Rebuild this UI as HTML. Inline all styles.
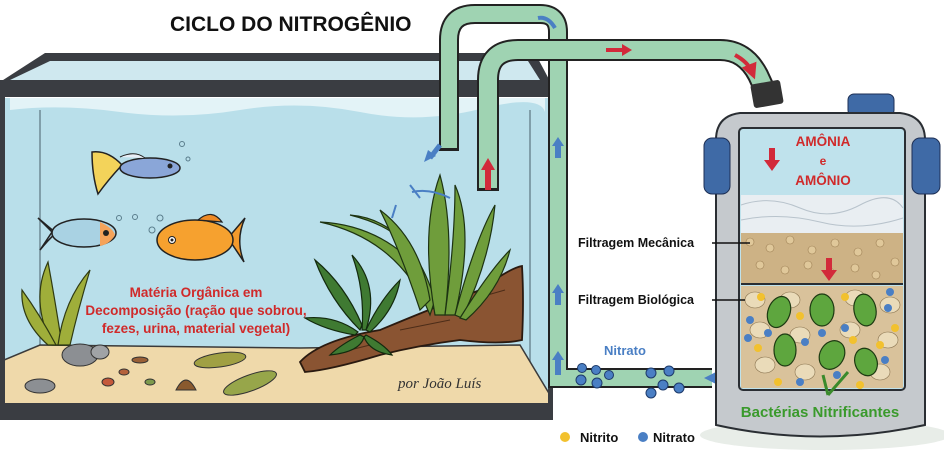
<!DOCTYPE html>
<html><head><meta charset="utf-8"><style>
html,body{margin:0;padding:0;background:#fff;}
svg{display:block;}
text{font-family:"Liberation Sans",sans-serif;}
</style></head><body>
<svg width="944" height="450" viewBox="0 0 944 450" xmlns="http://www.w3.org/2000/svg">
<defs>
<marker id="ar" viewBox="0 0 10 10" refX="5" refY="5" markerWidth="4" markerHeight="4" orient="auto"><path d="M0,0L10,5L0,10z" fill="#d22a3a"/></marker>
</defs>
<text x="170" y="31" font-size="21" font-weight="bold" fill="#111">CICLO DO NITROGÊNIO</text>

<polygon points="0,82 45,53 535,53 552,85" fill="#3a3d42"/>
<polygon points="10,80 50,61 528,61 540,80" fill="#cfe8ef"/>
<rect x="4" y="98" width="546" height="305" fill="#b9dfea"/>
<path d="M10,110 Q60,104 120,112 T240,110 T360,112 T480,109 T545,112 L545,98 L10,98z" fill="#e3f3f7"/>
<line x1="40" y1="110" x2="40" y2="395" stroke="#6f8a94" stroke-width="1.5"/>
<line x1="530" y1="110" x2="530" y2="380" stroke="#6f8a94" stroke-width="1.5"/>
<polygon points="4,405 4,360 40,345 300,348 520,345 550,395 550,405" fill="#efd9aa" stroke="#3a3a3a" stroke-width="1.5"/>
<rect x="0" y="80" width="553" height="17" fill="#3a3d42"/>
<rect x="0" y="403" width="553" height="17" fill="#3a3d42"/>
<rect x="0" y="96" width="5" height="310" fill="#3a3d42"/>
<rect x="548" y="96" width="5" height="310" fill="#3a3d42"/>

<path d="M92,152 Q108,150 122,165 Q108,180 98,194 Q92,175 92,152z" fill="#f3d35a" stroke="#222" stroke-width="1.5"/>
<ellipse cx="150" cy="168" rx="30" ry="10" fill="#8aa6d8" stroke="#222" stroke-width="1.5"/>
<path d="M120,157 Q135,150 145,158" fill="#e8eef6" stroke="#222" stroke-width="1"/>
<circle cx="170" cy="166" r="2.5" fill="#222"/>
<path d="M38,218 L52,232 L40,250 Q48,240 56,233z" fill="#a9cde0" stroke="#222" stroke-width="1.5"/>
<ellipse cx="84" cy="233" rx="32" ry="14" fill="#a9d2e3" stroke="#222" stroke-width="1.5"/>
<path d="M100,222 Q113,228 115,235 Q110,244 100,246z" fill="#f5a35a"/>
<circle cx="106" cy="233" r="3" fill="#222"/>
<path d="M245,218 L228,238 L244,262 Q235,240 245,218z" fill="#f39a2c" stroke="#222" stroke-width="1.5"/>
<ellipse cx="195" cy="240" rx="38" ry="20" fill="#f6a12f" stroke="#222" stroke-width="1.5"/>
<path d="M198,220 Q212,208 222,222z" fill="#ef8a25" stroke="#222" stroke-width="1.2"/>
<circle cx="172" cy="240" r="3.5" fill="#fff" stroke="#222"/><circle cx="172" cy="240" r="1.5" fill="#222"/>
<g fill="none" stroke="#5a7d8c" stroke-width="1"><circle cx="182" cy="144" r="2.5"/><circle cx="188" cy="159" r="2"/><circle cx="135" cy="217" r="2.5"/><circle cx="160" cy="218" r="3"/><circle cx="152" cy="230" r="3"/><circle cx="119" cy="218" r="2.5"/></g>

<g fill="#9fae3a" stroke="#2f3a12" stroke-width="1.2">
<path d="M52,345 Q30,300 48,262 Q55,300 62,345z"/>
<path d="M58,345 Q64,300 90,270 Q78,310 70,345z"/>
<path d="M48,345 Q20,320 22,290 Q40,315 56,345z"/>
</g>
<ellipse cx="80" cy="355" rx="18" ry="11" fill="#8c8f93" stroke="#333"/>
<ellipse cx="40" cy="386" rx="15" ry="7" fill="#8c8f93" stroke="#333"/>
<ellipse cx="100" cy="352" rx="9" ry="7" fill="#a0a3a6" stroke="#333"/>
<g stroke="#333" stroke-width="1">
<ellipse cx="220" cy="360" rx="26" ry="7" fill="#a0a043" transform="rotate(-8 220 360)"/>
<ellipse cx="250" cy="383" rx="28" ry="8" fill="#97a64a" transform="rotate(-20 250 383)"/>
<ellipse cx="108" cy="382" rx="6" ry="4" fill="#c4593b"/>
<ellipse cx="124" cy="372" rx="5" ry="3" fill="#b5623c"/>
<ellipse cx="140" cy="360" rx="8" ry="3" fill="#9a6036"/>
<path d="M176,390 Q186,370 196,390z" fill="#8a5a2e"/>
<ellipse cx="150" cy="382" rx="5" ry="3" fill="#7d9a4c"/>
</g>

<path d="M300,362 Q320,340 380,330 Q440,305 480,290 Q510,268 522,266 Q524,300 522,340 Q500,345 460,340 Q420,345 380,355 Q330,370 305,372z" fill="#8a5432" stroke="#2a1a10" stroke-width="1.8"/>
<g fill="none" stroke="#4c2c18" stroke-width="1"><path d="M330,355 L370,345"/><path d="M400,330 L450,320"/><path d="M470,300 L505,290"/></g>
<g fill="#6f9d3b" stroke="#1d3312" stroke-width="1.2">
<path d="M430,315 Q400,240 320,222 Q380,225 420,270 Q410,230 350,215 Q410,220 435,300z"/>
<path d="M435,315 Q420,230 440,175 Q455,230 445,315z"/>
<path d="M445,315 Q455,240 455,185 Q475,230 455,315z"/>
<path d="M455,315 Q475,240 495,205 Q490,260 462,318z"/>
<path d="M460,318 Q490,270 510,250 Q500,290 466,320z"/>
<path d="M420,310 Q400,250 380,210 Q420,240 430,300z"/>
</g>
<g fill="#3f7a32" stroke="#132a0e" stroke-width="1.2">
<path d="M360,330 Q330,300 315,260 Q345,285 362,325z"/>
<path d="M362,330 Q365,290 352,255 Q380,285 366,330z"/>
<path d="M366,330 Q380,300 400,280 Q395,310 370,332z"/>
<path d="M355,335 Q325,330 305,318 Q335,315 358,332z"/>
<path d="M360,335 Q340,345 330,355 Q360,352 364,337z"/>
<path d="M366,335 Q385,345 392,355 Q370,352 364,337z"/>
</g>

<g font-size="13.5" font-weight="bold" fill="#d02a2a" text-anchor="middle">
<text x="196" y="297">Matéria Orgânica em</text>
<text x="196" y="315">Decomposição (ração que sobrou,</text>
<text x="196" y="333">fezes, urina, material vegetal)</text>
</g>
<text x="398" y="388" style="font-family:'Liberation Serif',serif;font-style:italic" font-size="15" fill="#333">por João Luís</text>

<g fill="none" stroke-linecap="butt">
<path d="M449,150 L449,40 Q449,14 475,14 L540,14 Q558,14 558,32 L558,378 L712,378" stroke="#222" stroke-width="20"/>
<path d="M449,150 L449,40 Q449,14 475,14 L540,14 Q558,14 558,32 L558,378 L712,378" stroke="#9fd3b2" stroke-width="16"/>
<path d="M488,190 L488,80 Q488,50 518,50 L720,50 Q745,50 758,75 L764,88" stroke="#222" stroke-width="22"/>
<path d="M488,190 L488,80 Q488,50 518,50 L720,50 Q745,50 758,75 L764,88" stroke="#9fd3b2" stroke-width="18"/>
</g>
<rect x="439" y="148" width="20" height="3" fill="#222"/>
<rect x="477" y="188" width="22" height="3" fill="#222"/>
<rect x="752" y="82" width="30" height="24" rx="3" fill="#333" transform="rotate(-10 767 94)"/>
<path d="M606,48 L622,48 L622,44 L632,50 L622,56 L622,52 L606,52z" fill="#d22a3a"/>
<path d="M735,55 Q748,62 752,72" stroke="#d22a3a" stroke-width="4" fill="none" marker-end="url(#ar)"/>
<path d="M485,190 L485,170 L481,170 L488,158 L495,170 L491,170 L491,190z" fill="#d22a3a"/>
<path d="M555,28 Q548,16 538,18" stroke="#4a7fc4" stroke-width="4" fill="none"/>
<path d="M440,145 L430,158" stroke="#4a7fc4" stroke-width="5"/><path d="M424,162 L428,150 L436,156z" fill="#4a7fc4"/>
<g fill="#4a7fc4"><path d="M555,158 L555,146 L552,146 L558,137 L564,146 L561,146 L561,158z"/><path d="M555,305 L555,293 L552,293 L558,284 L564,293 L561,293 L561,305z"/><path d="M555,375 L555,360 L552,360 L558,351 L564,360 L561,360 L561,375z"/>
<path d="M740,375 L720,375 L720,370 L704,378 L720,386 L720,381 L740,381z"/></g>
<g fill="none" stroke="#4a7fc4" stroke-width="2"><path d="M410,185 L420,198"/><path d="M412,192 Q430,188 450,198"/><path d="M396,205 L392,218"/></g>
<g fill="#4a7fc4" stroke="#1d3a6a" stroke-width="1">
<circle cx="582" cy="368" r="4.5"/><circle cx="596" cy="370" r="4.5"/><circle cx="609" cy="375" r="4.5"/><circle cx="581" cy="380" r="5"/><circle cx="597" cy="383" r="5"/>
<circle cx="651" cy="373" r="5"/><circle cx="669" cy="371" r="5"/><circle cx="663" cy="385" r="5"/><circle cx="679" cy="388" r="5"/><circle cx="651" cy="393" r="5"/>
</g>
<text x="604" y="355" font-size="13" font-weight="bold" fill="#4a7fc4">Nitrato</text>

<ellipse cx="825" cy="435" rx="125" ry="15" fill="#e8ede8"/>
<rect x="848" y="94" width="46" height="22" rx="6" fill="#3f6aa6" stroke="#1d2f55"/>
<path d="M716,140 Q716,116 740,113 L900,113 Q925,116 925,140 L925,425 Q820,448 716,425z" fill="#c5c9cd" stroke="#2a2e33" stroke-width="2"/>
<rect x="704" y="138" width="26" height="56" rx="8" fill="#3f6aa6" stroke="#1d2f55"/>
<rect x="912" y="138" width="28" height="56" rx="8" fill="#3f6aa6" stroke="#1d2f55"/>
<rect x="739" y="128" width="166" height="262" rx="4" fill="#bfe2ec" stroke="#2a2e33" stroke-width="2"/>
<rect x="741" y="195" width="162" height="38" fill="#e9eef2"/>
<path d="M741,205 Q770,195 800,208 T860,205 T903,208 M741,220 Q780,212 820,222 T903,218" stroke="#b8c3cc" fill="none"/>
<rect x="741" y="233" width="162" height="50" fill="#cdb285"/>
<g fill="#e0c89a" stroke="#9e8055" stroke-width=".6">
<circle cx="750" cy="242" r="4"/><circle cx="770" cy="248" r="4"/><circle cx="790" cy="240" r="4"/><circle cx="812" cy="250" r="4"/><circle cx="835" cy="243" r="4"/><circle cx="858" cy="252" r="4"/><circle cx="880" cy="243" r="4"/><circle cx="895" cy="262" r="4"/><circle cx="760" cy="265" r="4"/><circle cx="785" cy="270" r="4"/><circle cx="808" cy="265" r="4"/><circle cx="830" cy="272" r="4"/><circle cx="855" cy="268" r="4"/><circle cx="876" cy="275" r="4"/></g>
<line x1="741" y1="284" x2="903" y2="284" stroke="#2a2e33" stroke-width="2"/>
<rect x="741" y="286" width="162" height="102" fill="#d9c29b"/>
<g fill="#eadbb9" stroke="#8a7450" stroke-width=".6">
<ellipse cx="755" cy="300" rx="10" ry="8"/><ellipse cx="790" cy="300" rx="10" ry="8"/><ellipse cx="855" cy="298" rx="10" ry="8"/><ellipse cx="890" cy="305" rx="10" ry="8"/><ellipse cx="760" cy="330" rx="10" ry="8"/><ellipse cx="800" cy="335" rx="10" ry="8"/><ellipse cx="850" cy="330" rx="10" ry="8"/><ellipse cx="888" cy="340" rx="10" ry="8"/><ellipse cx="765" cy="365" rx="10" ry="8"/><ellipse cx="805" cy="372" rx="10" ry="8"/><ellipse cx="880" cy="372" rx="10" ry="8"/></g>
<g fill="#5ea63e" stroke="#1d3a12" stroke-width="1.2">
<ellipse cx="779" cy="312" rx="11" ry="16" transform="rotate(20 779 312)"/><ellipse cx="822" cy="310" rx="12" ry="16"/><ellipse cx="865" cy="310" rx="11" ry="16" transform="rotate(-10 865 310)"/><ellipse cx="785" cy="350" rx="11" ry="16"/><ellipse cx="832" cy="355" rx="12" ry="15" transform="rotate(30 832 355)"/><ellipse cx="866" cy="362" rx="11" ry="14" transform="rotate(-20 866 362)"/></g>
<g fill="#f2c12e"><circle cx="761" cy="297" r="4"/><circle cx="800" cy="316" r="4"/><circle cx="845" cy="297" r="4"/><circle cx="895" cy="328" r="4"/><circle cx="758" cy="348" r="4"/><circle cx="853" cy="340" r="4"/><circle cx="880" cy="345" r="4"/><circle cx="778" cy="382" r="4"/><circle cx="860" cy="385" r="4"/></g>
<g fill="#4a7fc4"><circle cx="890" cy="292" r="4"/><circle cx="888" cy="308" r="4"/><circle cx="750" cy="320" r="4"/><circle cx="768" cy="333" r="4"/><circle cx="748" cy="338" r="4"/><circle cx="805" cy="342" r="4"/><circle cx="845" cy="328" r="4"/><circle cx="822" cy="333" r="4"/><circle cx="885" cy="360" r="4"/><circle cx="800" cy="382" r="4"/><circle cx="837" cy="375" r="4"/></g>
<path d="M828,395 L823,375 M828,395 L848,372" stroke="#3a8a2c" stroke-width="3" fill="none"/>
<g font-size="13.5" font-weight="bold" fill="#d02a2a" text-anchor="middle"><text x="823" y="146">AMÔNIA</text><text x="823" y="165" font-size="12">e</text><text x="823" y="185">AMÔNIO</text></g>
<path d="M769,148 L769,160 L764,160 L772,171 L780,160 L775,160 L775,148z" fill="#d22a3a"/>
<path d="M826,258 L826,270 L821,270 L829,281 L837,270 L832,270 L832,258z" fill="#d22a3a"/>
<text x="820" y="417" font-size="15" font-weight="bold" fill="#3a9a2c" text-anchor="middle">Bactérias Nitrificantes</text>

<g font-size="12.5" font-weight="bold" fill="#111"><text x="578" y="247">Filtragem Mecânica</text><text x="578" y="304">Filtragem Biológica</text></g>
<line x1="712" y1="243" x2="750" y2="243" stroke="#111" stroke-width="1.5"/>
<line x1="712" y1="300" x2="745" y2="300" stroke="#111" stroke-width="1.5"/>

<circle cx="565" cy="437" r="5" fill="#f2c12e"/><text x="580" y="442" font-size="13" font-weight="bold" fill="#111">Nitrito</text>
<circle cx="643" cy="437" r="5" fill="#4a7fc4"/><text x="653" y="442" font-size="13" font-weight="bold" fill="#111">Nitrato</text>
</svg>
</body></html>
